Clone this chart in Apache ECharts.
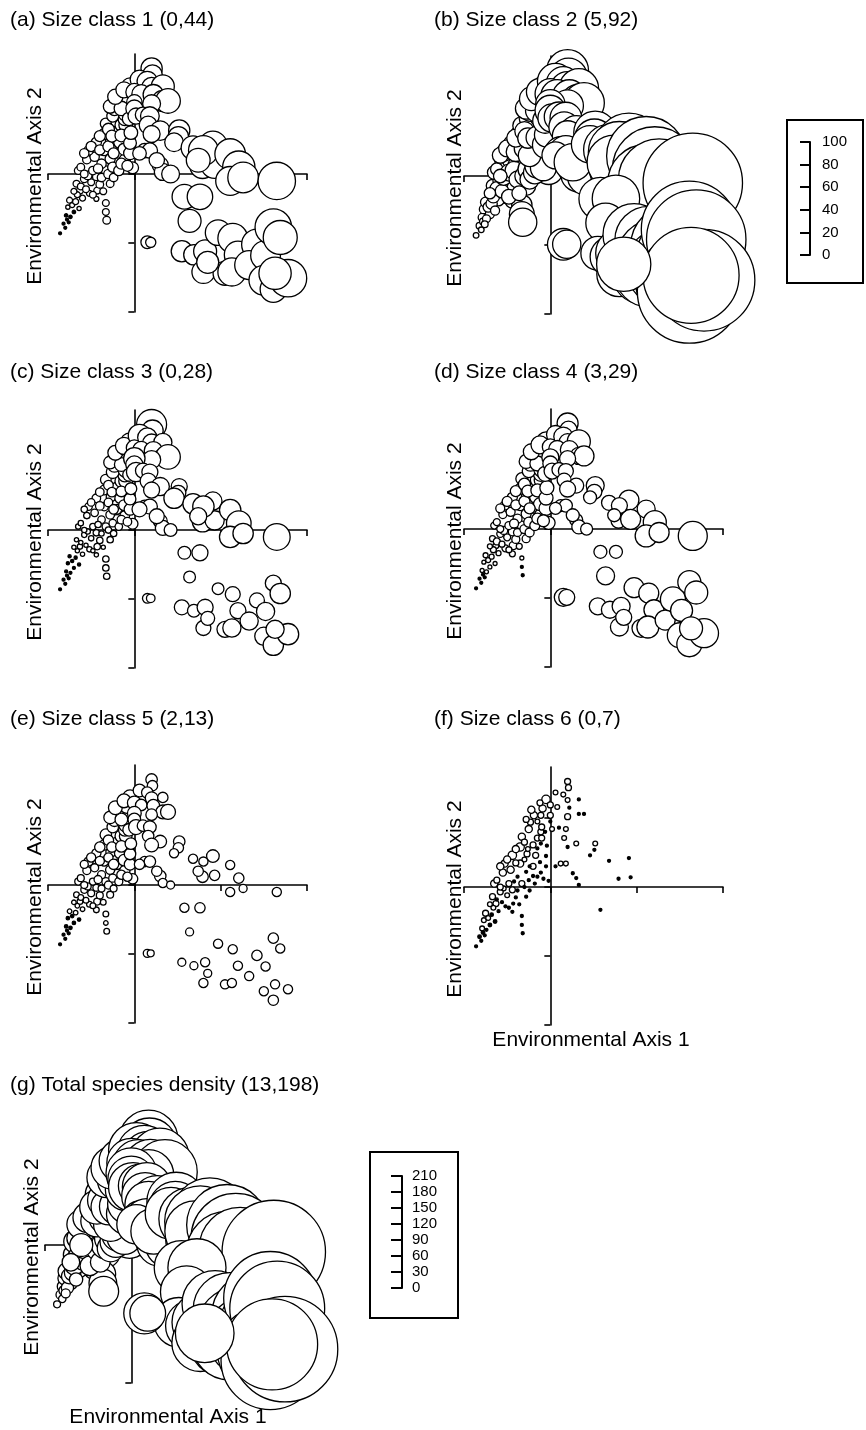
<!DOCTYPE html>
<html><head><meta charset="utf-8">
<style>html,body{margin:0;padding:0;background:#fff;}#chart{width:866px;height:1430px;}</style>
<script src="https://cdn.jsdelivr.net/npm/echarts@6/dist/echarts.min.js"></script>
</head><body><div id="chart"></div>
<script>
// Site coordinates on the two environmental axes (shared by all panels)
const siteX = [
 -0.86,-0.82,-0.79,-0.77,-0.75,-0.63,-0.67,-0.58,-0.65,-0.52,-0.43,-0.44,-0.44,-0.33,-0.28,-0.55,-0.46,-0.53,-0.35,-0.20,-0.20,-0.11,-0.02,-0.44,-0.27,-0.17,-0.35,-0.20,-0.11,-0.33,-0.15,-0.10,-0.11,-0.25,-0.10,-0.23,-0.19,-0.11,-0.09,-0.05,-0.33,-0.33,-0.32,-0.60,-0.70,-0.50,-0.38,-0.28,-0.12,-0.05,-0.62,-0.40,
 -0.80,-0.78,-0.74,-0.72,-0.68,-0.66,-0.62,-0.56,-0.54,-0.48,-0.48,-0.42,-0.38,-0.36,-0.30,-0.25,-0.24,-0.18,-0.15,-0.08,-0.58,-0.50,-0.40,-0.30,-0.24,-0.40,-0.30,-0.26,-0.15,-0.05,-0.04,-0.28,-0.15,-0.06,-0.22,-0.12,-0.58,-0.70,-0.64,-0.76,
 0.20,0.21,0.06,0.15,0.20,0.33,0.00,0.08,0.22,0.33,0.39,0.20,0.00,0.00,0.02,0.10,0.18,0.16,0.30,0.20,0.12,0.18,0.06,0.30,0.33,0.42,0.26,
 0.52,0.51,0.46,0.68,0.91,0.79,0.93,0.80,0.74,1.11,1.21,1.11,1.26,1.65,
 0.58,0.76,0.64,0.55,0.69,0.82,0.80,0.97,1.14,1.20,1.05,1.13,1.42,1.33,1.52,1.61,1.69,1.50,1.61,1.78,1.63,0.85,
 0.15,0.19
];
const siteY = [
 -0.86,-0.72,-0.60,-0.48,-0.38,-0.24,-0.14,-0.07,0.05,-0.28,-0.24,-0.36,-0.04,0.05,-0.14,0.21,0.25,0.34,0.34,0.30,0.16,0.21,0.09,0.46,0.48,0.46,0.58,0.61,0.63,0.73,0.71,0.71,0.80,0.84,0.87,0.94,1.04,1.04,1.14,1.27,-0.42,-0.55,-0.67,-0.35,-0.55,-0.12,0.15,0.22,0.36,0.30,0.10,-0.15,
 -0.78,-0.66,-0.62,-0.45,-0.40,-0.30,-0.18,-0.22,-0.02,-0.30,0.05,0.08,-0.05,-0.25,0.00,0.10,-0.05,0.05,0.15,0.12,0.30,0.40,0.35,0.40,0.30,0.55,0.65,0.55,0.56,0.45,0.60,0.98,0.95,0.80,1.12,1.22,0.00,-0.25,-0.50,-0.70,
 1.53,1.44,1.37,1.34,1.26,1.27,1.19,1.16,1.15,1.06,1.06,1.02,1.04,0.95,0.84,0.86,0.84,0.71,0.63,0.58,0.34,0.34,0.30,0.13,0.03,0.00,0.20,
 0.63,0.54,0.46,0.38,0.42,0.12,0.14,0.34,0.20,0.29,0.10,-0.10,-0.05,-0.10,
 -0.33,-0.33,-0.68,-1.12,-1.17,-1.12,-1.42,-0.85,-0.93,-1.17,-1.44,-1.42,-1.02,-1.32,-1.18,-0.77,-0.92,-1.54,-1.67,-1.51,-1.44,-1.28,
 -0.99,-0.99
];
// Density per site for each size class and total
const sizeClass1 = [
 1,2,4,5,7,8,8,9,9,7,8,6,9,11,9,10,11,11,12,13,12,13,14,12,13,14,13,14,15,13,15,16,16,14,17,15,17,18,19,20,8,8,9,7,4,8,11,12,14,15,9,9,
 1,3,4,6,7,7,8,8,10,8,10,11,10,8,11,12,10,12,13,13,11,12,12,13,13,13,14,14,15,15,16,16,17,16,18,19,9,7,5,2,
 25,23,22,24,23,27,20,22,24,25,29,21,18,20,19,18,22,21,23,20,17,18,16,19,20,21,18,
 25,24,22,28,33,30,33,35,28,36,38,34,36,44,
 29,30,27,25,24,27,27,30,35,32,28,33,36,34,35,43,40,35,31,44,38,26,
 15,12
];
const sizeClass2 = [
 5,6,7,8,9,12,11,13,12,14,16,13,15,18,17,14,16,15,19,22,20,24,26,16,20,23,18,18,20,16,19,21,20,17,21,18,20,22,22,24,18,22,25,10,8,14,17,21,27,28,11,15,
 5,6,7,9,10,11,12,12,14,13,15,16,15,13,17,19,17,20,22,23,14,15,17,18,20,16,17,18,20,24,22,19,21,22,21,24,12,10,8,6,
 37,33,32,30,31,35,27,29,30,33,36,28,26,27,25,26,28,27,30,27,28,30,24,33,32,34,33,
 38,35,33,45,60,52,58,55,48,70,75,68,72,88,
 38,42,35,30,35,45,40,55,60,65,50,58,75,70,80,85,88,78,92,90,85,48,
 28,25
];
const sizeClass3 = [
 1,1,2,3,3,5,4,5,5,5,6,4,6,7,6,6,7,7,8,9,8,9,10,8,9,9,9,11,12,10,12,13,13,12,14,13,15,16,17,18,6,6,6,4,2,5,7,8,10,11,5,6,
 1,1,2,3,3,4,4,4,5,4,6,6,5,4,6,7,6,7,8,8,6,7,8,8,9,8,9,9,10,11,11,12,13,12,14,16,5,4,3,1,
 28,20,21,18,17,17,15,16,17,16,23,17,20,16,18,14,15,15,17,15,12,14,14,13,14,12,14,
 15,14,19,19,17,19,18,20,16,20,23,20,19,25,
 12,15,11,14,12,15,14,11,14,15,15,17,14,17,17,15,19,17,19,20,17,13,
 9,8
];
const sizeClass4 = [
 3,3,4,4,5,6,6,7,7,7,8,6,8,9,8,8,9,9,10,11,10,12,13,10,11,12,11,13,14,12,14,15,15,13,16,14,16,17,18,19,4,3,3,5,4,7,9,10,13,14,7,8,
 3,3,4,5,5,6,7,6,8,6,8,9,8,6,9,10,9,10,11,12,9,10,10,11,11,11,12,12,13,14,14,14,15,15,16,18,7,5,4,3,
 21,17,18,19,17,23,16,17,18,17,20,16,17,15,16,14,15,14,15,16,12,13,12,13,14,12,13,
 18,15,13,15,20,15,20,16,13,18,23,22,20,29,
 13,13,18,17,17,18,18,20,20,20,18,22,25,20,22,23,23,25,25,29,23,16,
 18,16
];
const sizeClass5 = [
 2,2,3,3,4,5,5,6,6,5,6,5,6,7,6,7,7,8,8,9,8,9,9,8,9,9,9,10,10,10,11,11,11,10,12,11,12,12,12,13,5,4,5,4,3,6,7,8,10,10,6,6,
 2,2,3,3,4,4,5,5,6,5,6,7,6,5,7,7,6,7,8,8,7,8,8,8,9,9,9,9,10,10,10,11,11,11,12,12,6,4,3,2,
 10,9,11,10,11,9,12,10,11,12,13,10,12,11,13,10,11,10,11,12,9,10,9,10,8,7,9,
 10,9,8,8,11,10,9,8,9,8,9,8,7,8,
 8,9,7,7,7,8,8,8,8,8,8,8,9,8,8,9,8,8,9,8,8,7,
 7,6
];
const sizeClass6 = [
 1,3,4,4,5,5,5,5,6,2,2,2,5,5,2,6,6,6,6,5,2,2,2,7,5,5,7,5,2,6,5,5,5,6,5,5,6,5,6,7,1,1,1,2,3,4,2,2,2,1,5,2,
 2,3,2,4,3,4,2,2,4,2,5,2,2,1,2,2,2,2,1,1,6,6,5,4,2,6,5,4,2,2,2,5,4,2,6,5,5,4,3,2,
 5,5,4,4,4,2,5,4,2,2,2,5,5,2,4,2,4,4,4,2,4,4,2,2,2,0,2,
 4,2,2,2,2,2,2,0,0,0,0,0,0,0,
 2,0,0,0,0,0,0,0,0,0,0,0,0,0,0,0,0,0,0,0,0,0,
 0,0
];
const totalDensity = [
 13,17,22,26,32,40,38,43,43,40,45,35,47,54,46,49,54,54,60,65,58,68,73,58,65,70,65,70,73,66,75,78,78,72,80,74,75,78,80,82,48,52,56,31,25,42,51,59,75,78,41,44,
 14,19,23,29,31,35,38,37,46,37,50,51,46,37,52,57,50,59,62,66,54,57,60,62,64,64,67,67,71,77,76,76,79,78,80,82,43,33,25,17,
 110,104,105,102,100,110,92,95,99,102,121,94,95,88,92,81,92,88,97,89,79,86,74,87,87,83,86,
 110,99,97,117,143,128,140,134,114,152,168,152,154,194,
 102,109,98,93,95,113,107,124,137,140,119,138,159,149,162,175,178,163,185,198,171,110,
 77,67
];
const panelTitles = ['(a) Size class 1 (0,44)','(b) Size class 2 (5,92)','(c) Size class 3 (0,28)','(d) Size class 4 (3,29)','(e) Size class 5 (2,13)','(f) Size class 6 (0,7)','(g) Total species density (13,198)'];
const xTicks = [-1,0,1,2];
const yTicks = [-2,-1,0,1];
const legendTicksB = [0,20,40,60,80,100];
const legendTicksG = [0,30,60,90,120,150,180,210];
const axis1Name = 'Environmental Axis 1';
const axis2Name = 'Environmental Axis 2';

const FONT = '"Liberation Sans", Arial, Helvetica, sans-serif';
const panels = [
 {v: sizeClass1, k: 0.85, left: 48, top: 54, tx: 10, ty: 20},
 {v: sizeClass2, k: 1.13, left: 464, top: 56, tx: 434, ty: 20},
 {v: sizeClass3, k: 1.07, left: 48, top: 410, tx: 10, ty: 372},
 {v: sizeClass4, k: 1.0, left: 464, top: 409, tx: 434, ty: 372},
 {v: sizeClass5, k: 1.15, left: 48, top: 765, tx: 10, ty: 719},
 {v: sizeClass6, k: 1.2, left: 464, top: 767, tx: 434, ty: 719},
 {v: totalDensity, k: 0.533, left: 45, top: 1125, tx: 10, ty: 1085}
];
const GW = 259, GH = 258, YMAX = 1.74, YMIN = -2;
const line = {color: '#000', width: 1.6};

const grid = [], xAxis = [], yAxis = [], series = [], graphic = [];
panels.forEach((p, i) => {
  grid.push({left: p.left, top: p.top, width: GW, height: GH});
  xAxis.push({gridIndex: i, type: 'value', min: -1, max: 2, interval: 1,
    axisLine: {onZero: true, lineStyle: line},
    axisTick: {show: true, length: 6, inside: false, lineStyle: line, customValues: xTicks},
    axisLabel: {show: false}, splitLine: {show: false}});
  yAxis.push({gridIndex: i, type: 'value', min: YMIN, max: YMAX, interval: 1,
    axisLine: {onZero: true, lineStyle: line},
    axisTick: {show: true, length: 6, inside: false, lineStyle: line, customValues: yTicks},
    axisLabel: {show: false}, splitLine: {show: false}});
  const k = p.k;
  series.push({type: 'scatter', xAxisIndex: i, yAxisIndex: i, clip: false, silent: true,
    data: siteX.map((x, j) => [x, siteY[j], p.v[j]]).filter(d => d[2] > 0),
    symbol: 'circle',
    symbolSize: d => Math.max(d[2] * k, 3),
    itemStyle: {color: prm => (prm.data[2] * k < 3.6 ? '#000' : '#fff'), borderColor: '#000', borderWidth: 1.3, opacity: 1},
    emphasis: {disabled: true}});
  graphic.push({type: 'text', x: p.tx, y: p.ty, silent: true,
    style: {text: panelTitles[i], fontSize: 21, fontFamily: FONT, fill: '#000', align: 'left', verticalAlign: 'middle'}});
  const zeroY = p.top + GH * YMAX / (YMAX - YMIN);
  graphic.push({type: 'text', x: p.left < 200 ? p.left - 13 : p.left - 9, y: zeroY + 12, rotation: Math.PI / 2, silent: true,
    style: {text: axis2Name, fontSize: 21, fontFamily: FONT, fill: '#000', align: 'center', verticalAlign: 'middle'}});
});
graphic.push({type: 'text', x: 591, y: 1040, silent: true,
  style: {text: axis1Name, fontSize: 21, fontFamily: FONT, fill: '#000', align: 'center', verticalAlign: 'middle'}});
graphic.push({type: 'text', x: 168, y: 1417, silent: true,
  style: {text: axis1Name, fontSize: 21, fontFamily: FONT, fill: '#000', align: 'center', verticalAlign: 'middle'}});

// Size legends
const legends = [
  {ticks: legendTicksB, left: 808, top: 142, height: 113, box: [787, 120, 76, 163], tick: 10, margin: 12},
  {ticks: legendTicksG, left: 400, top: 1176, height: 112, box: [370, 1152, 88, 166], tick: 11, margin: 10}
];
legends.forEach((L, j) => {
  const gi = panels.length + j;
  grid.push({left: L.left, top: L.top, width: 2, height: L.height});
  xAxis.push({gridIndex: gi, type: 'value', show: false, min: 0, max: 1});
  yAxis.push({gridIndex: gi, type: 'value', position: 'right', min: L.ticks[0], max: L.ticks[L.ticks.length - 1],
    interval: L.ticks[1] - L.ticks[0],
    axisLine: {show: true, onZero: false, lineStyle: {color: '#000', width: 2}},
    axisTick: {show: true, inside: true, length: L.tick, lineStyle: {color: '#000', width: 2}},
    axisLabel: {show: true, margin: L.margin, fontSize: 15, fontFamily: FONT, color: '#000', padding: [7, 0, 0, 0]},
    splitLine: {show: false}});
  graphic.push({type: 'rect', silent: true, shape: {x: L.box[0], y: L.box[1], width: L.box[2], height: L.box[3]},
    style: {fill: 'none', stroke: '#000', lineWidth: 2}});
});

const chart = echarts.init(document.getElementById('chart'), null, {renderer: 'canvas'});
chart.setOption({animation: false, backgroundColor: '#fff', grid, xAxis, yAxis, series, graphic});
</script></body></html>
